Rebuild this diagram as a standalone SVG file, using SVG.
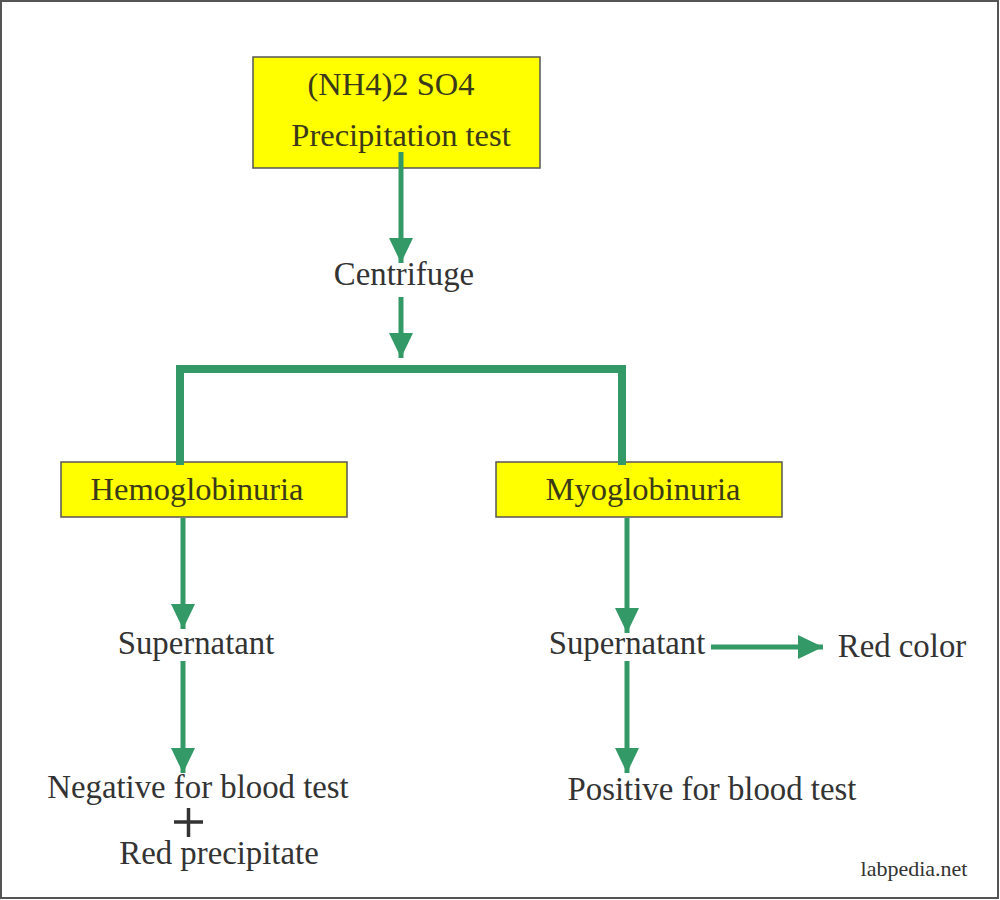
<svg xmlns="http://www.w3.org/2000/svg" width="1000" height="900" viewBox="0 0 1000 900">
<defs>
<style>
.box{fill:#ffff00;stroke:#555;stroke-width:1.5}
.t{font-family:"Liberation Serif","Times New Roman",serif;font-size:32.8px;fill:#333;text-anchor:middle}
.bt{font-family:"Liberation Serif","Times New Roman",serif;font-size:32.5px;fill:#3a3a1a;text-anchor:middle}
.ln{stroke:#339966;stroke-width:5;fill:none}
.br{stroke:#339966;stroke-width:8;fill:none}
.ah{fill:#339966}
</style>
<marker id="arr" markerUnits="userSpaceOnUse" markerWidth="26" markerHeight="24" refX="25" refY="12" orient="auto" viewBox="0 0 26 24">
<path d="M0,0 L25,12 L0,24 Z" class="ah"/>
</marker>
</defs>
<rect x="1" y="1" width="997" height="897" fill="#fff" stroke="#555" stroke-width="2"/>
<g id="top">
<rect class="box" x="253" y="57" width="287" height="111"/>
<text class="bt" x="391" y="95">(NH4)2 SO4</text>
<text class="bt" x="401" y="146">Precipitation test</text>
</g>
<g id="centrifuge"><text class="t" x="404" y="285">Centrifuge</text></g>
<g id="hemo">
<rect class="box" x="61" y="462" width="286" height="55"/>
<text class="bt" x="197" y="500">Hemoglobinuria</text>
</g>
<g id="myo">
<rect class="box" x="496" y="462" width="286" height="55"/>
<text class="bt" x="643" y="500">Myoglobinuria</text>
</g>
<g id="supL"><text class="t" x="196" y="654">Supernatant</text></g>
<g id="supR"><text class="t" x="627" y="654">Supernatant</text></g>
<g id="redcolor"><text class="t" x="902" y="657">Red color</text></g>
<g id="neg">
<text class="t" x="198" y="798">Negative for blood test</text>
<path d="M174,822 H203 M188.5,808 V837" stroke="#333" stroke-width="3.5"/>
<text class="t" x="219" y="864">Red precipitate</text>
</g>
<g id="pos"><text class="t" x="712" y="800">Positive for blood test</text></g>
<g id="credit"><text x="914" y="876" style="font-family:'Liberation Serif',serif;font-size:22px;fill:#333;text-anchor:middle">labpedia.net</text></g>
<g id="connectors">
<line class="ln" x1="401" y1="152" x2="401" y2="263" marker-end="url(#arr)"/>
<line class="ln" x1="401" y1="297" x2="401" y2="358" marker-end="url(#arr)"/>
<polyline class="br" points="180,465 180,369 622,369 622,465"/>
<line class="ln" x1="183" y1="518" x2="183" y2="629" marker-end="url(#arr)"/>
<line class="ln" x1="183" y1="661" x2="183" y2="773" marker-end="url(#arr)"/>
<line class="ln" x1="627" y1="518" x2="627" y2="633" marker-end="url(#arr)"/>
<line class="ln" x1="627" y1="661" x2="627" y2="773" marker-end="url(#arr)"/>
<line class="ln" x1="711" y1="647" x2="823" y2="647" marker-end="url(#arr)"/>
</g>
</svg>
